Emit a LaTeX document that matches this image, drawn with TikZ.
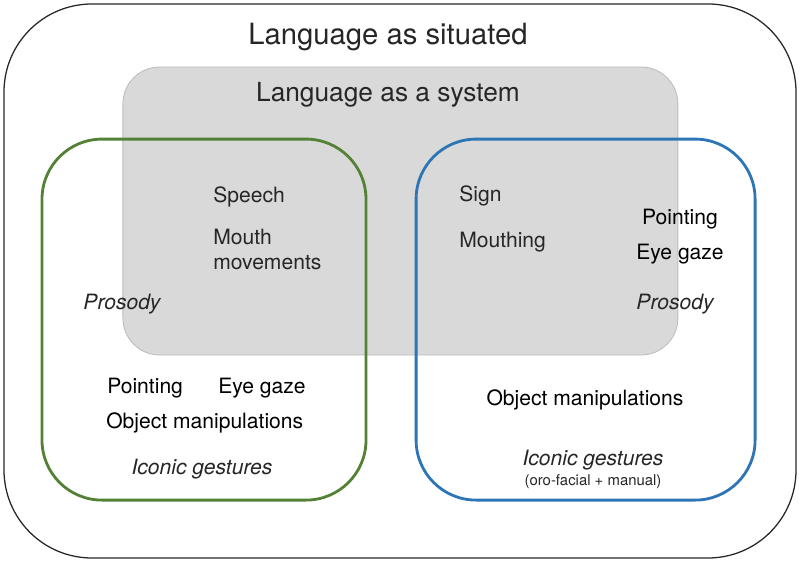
\documentclass[tikz,border=0pt]{standalone}
\usepackage{fontspec}
\setmainfont{TeX Gyre Heros}
\usetikzlibrary{positioning}

\definecolor{sysgray}{HTML}{D9D9D9}
\definecolor{sysedge}{HTML}{BDBDBD}
\definecolor{spokgreen}{HTML}{538135}
\definecolor{signblue}{HTML}{2E75B6}

\begin{document}
\begin{tikzpicture}[
		region/.style={draw, inner sep=0pt},
		lbl/.style={inner sep=0pt, text=black!85, font=\fontsize{15}{18.4}\selectfont},
		ital/.style={lbl, font=\fontsize{15}{18.4}\selectfont\itshape}
	]
			\useasboundingbox (0, 0) rectangle (20, 14.05);
			\node (0) at (10, 7.025) [region, line width=0.9pt, draw=black!85, rounded corners=2.2cm, minimum width=19.8cm, minimum height=13.85cm] {};
			\node (1) at (10.01, 8.775) [region, line width=0.6pt, draw=sysedge, fill=sysgray, rounded corners=0.92cm, minimum width=13.875cm, minimum height=7.2cm] {};
			\node (2) at (5.1, 6.06) [region, line width=2pt, draw=spokgreen, rounded corners=1.5cm, minimum width=8.1cm, minimum height=9.025cm] {};
			\node (3) at (14.64, 6.06) [region, line width=2pt, draw=signblue, rounded corners=1.5cm, minimum width=8.475cm, minimum height=9.025cm] {};
			
			% titles
			\node (4) at (9.7, 12.925) [lbl, anchor=base, font=\fontsize{20.8}{24}\selectfont] {Language as situated};
			\node (5) at (9.7, 11.5) [lbl, anchor=base, font=\fontsize{18.7}{22}\selectfont] {Language as a system};
			
			% spoken
			\node (6) at (5.325, 8.975) [lbl, anchor=base west] {Speech};
			\node (7) at (5.325, 7.3) [lbl, anchor=base west, align=left] {Mouth\\movements};
			\node (8) at (3.05, 6.325) [ital, anchor=base] {Prosody};
			\node (9) at (2.675, 4.225) [lbl, anchor=base west, text=black] {Pointing};
			\node (10) at (5.45, 4.225) [lbl, anchor=base west, text=black] {Eye gaze};
			\node (11) at (2.65, 3.35) [lbl, anchor=base west, text=black] {Object manipulations};
			\node (12) at (5.05, 2.2) [ital, anchor=base] {Iconic gestures};
			
			% signed
			\node (13) at (11.475, 9.0) [lbl, anchor=base west] {Sign};
			\node (14) at (11.475, 7.85) [lbl, anchor=base west] {Mouthing};
			\node (15) at (17.0, 8.425) [lbl, anchor=base, text=black] {Pointing};
			\node (16) at (17.0, 7.55) [lbl, anchor=base, text=black] {Eye gaze};
			\node (17) at (16.875, 6.325) [ital, anchor=base] {Prosody};
			\node (18) at (14.625, 3.925) [lbl, anchor=base, text=black] {Object manipulations};
			\node (19) at (14.825, 2.425) [ital, anchor=base] {Iconic gestures};
			\node (20) at (14.825, 1.925) [lbl, anchor=base, font=\fontsize{10.6}{12}\selectfont] {(oro-facial + manual)};
		\end{tikzpicture}
\end{document}
